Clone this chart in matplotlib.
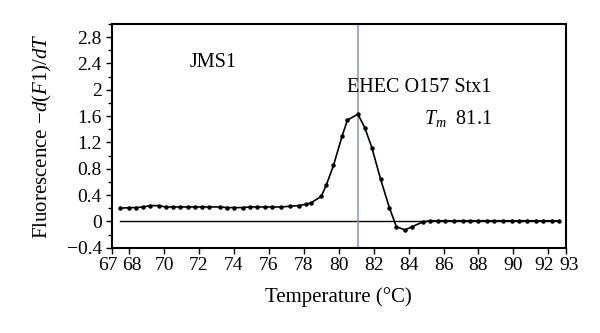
import matplotlib
matplotlib.use("Agg")
import matplotlib.pyplot as plt
from matplotlib.ticker import MultipleLocator
from matplotlib.transforms import ScaledTranslation

plt.rcParams['font.family'] = ['Liberation Serif', 'DejaVu Serif']
plt.rcParams['mathtext.fontset'] = 'custom'
plt.rcParams['mathtext.rm'] = 'Liberation Serif'
plt.rcParams['mathtext.it'] = 'Liberation Serif:italic'

temps = [67.5, 68.0, 68.4, 68.8, 69.2, 69.7, 70.1, 70.5, 70.9, 71.4, 71.8, 72.2,
         72.6, 73.2, 73.6, 74.0, 74.5, 74.9, 75.3, 75.8, 76.2, 76.7, 77.2, 77.7,
         78.1, 78.4, 79.0, 79.3, 79.7, 80.2, 80.5, 81.1, 81.5, 81.9, 82.4, 82.9,
         83.3, 83.8, 84.2, 84.8, 85.2, 85.7, 86.1, 86.6, 87.1, 87.5, 88.0, 88.5,
         88.9, 89.4, 89.9, 90.3, 90.8, 91.3, 91.7, 92.2, 92.6]
deriv = [0.20, 0.21, 0.21, 0.22, 0.24, 0.24, 0.22, 0.22, 0.22, 0.22, 0.22, 0.22,
         0.22, 0.22, 0.21, 0.21, 0.21, 0.22, 0.22, 0.22, 0.22, 0.22, 0.23, 0.24,
         0.26, 0.28, 0.38, 0.56, 0.85, 1.30, 1.54, 1.63, 1.42, 1.12, 0.64, 0.21,
         -0.08, -0.13, -0.08, -0.01, 0.01, 0.01, 0.01, 0.01, 0.01, 0.01, 0.01, 0.01,
         0.01, 0.01, 0.01, 0.01, 0.01, 0.01, 0.01, 0.01, 0.01]
tm_value = 81.1
xticks = [67, 68, 70, 72, 74, 76, 78, 80, 82, 84, 86, 88, 90, 92, 93]
yticks = [-0.4, 0, 0.4, 0.8, 1.2, 1.6, 2, 2.4, 2.8]
ytick_labels = ['\u22120.4', '0', '0.4', '0.8', '1.2', '1.6', '2', '2.4', '2.8']

fig = plt.figure(figsize=(6, 3.33), dpi=100)
ax = fig.add_axes([0.186, 0.256, 0.757, 0.672])

ax.plot([temps[0], temps[-1]], [0, 0], color='black', lw=1.0)
ax.axvline(tm_value, color='#8c8cc0', lw=1.1)
ax.plot(temps, deriv, color='black', lw=1.2, marker='o', ms=2.2)

ax.set_xlim(67, 93)
ax.set_ylim(-0.4, 3.0)
ax.set_xticks(xticks)
ax.set_xticklabels([str(t) for t in xticks])
ax.set_yticks(yticks)
ax.set_yticklabels(ytick_labels)
ax.yaxis.set_minor_locator(MultipleLocator(0.2))
ax.tick_params(direction='out', labelsize=14, length=4, width=1.0, pad=3)
ax.tick_params(which='minor', direction='out', length=3, width=1.0)
for s in ax.spines.values():
    s.set_linewidth(1.5)

# nudge crowded end labels apart
shifts = {0: -3.5, 1: 2.5, 13: -4, 14: 3}
for i, lab in enumerate(ax.get_xticklabels()):
    if i in shifts:
        lab.set_transform(lab.get_transform() +
                          ScaledTranslation(shifts[i] / 100, 0, fig.dpi_scale_trans))

ax.text(72.8, 2.41, 'JMS1', fontsize=14.5, ha='center', va='center')
ax.text(84.6, 2.03, 'EHEC O157 Stx1', fontsize=14.5, ha='center', va='center')
ax.text(88.8, 1.57, r'$T_m$  81.1', fontsize=14.5, ha='right', va='center')

ax.set_xlabel('Temperature (\u00b0C)', fontsize=15, labelpad=9)
ax.set_ylabel(r'Fluorescence $-d(F1)/dT$', fontsize=15, labelpad=9)

fig.savefig('out.png', dpi=100)
